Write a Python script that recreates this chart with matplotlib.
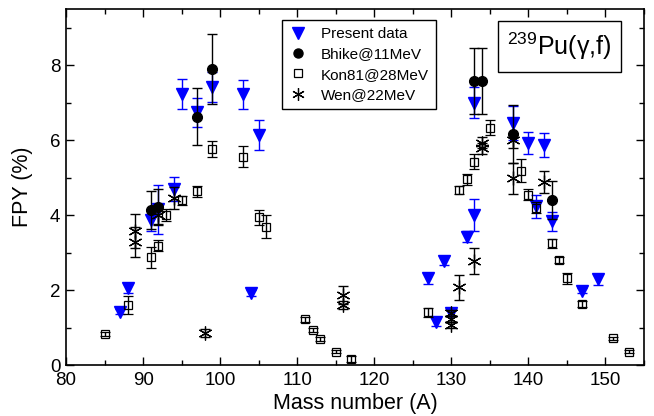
import matplotlib
matplotlib.use("Agg")
import matplotlib.pyplot as plt
from matplotlib.lines import Line2D
from matplotlib.ticker import MultipleLocator

plt.rcParams['font.family'] = ['Liberation Sans', 'DejaVu Sans']
plt.rcParams['mathtext.fontset'] = 'custom'
plt.rcParams['mathtext.rm'] = 'Liberation Sans'
plt.rcParams['mathtext.it'] = 'Liberation Sans:italic'

# Present data
pres_A = [87, 88, 91, 92, 94, 95, 97, 99, 103, 104, 105, 127, 128, 129, 130, 132, 133, 133, 138, 140, 141, 142, 143, 147, 149]
pres_Y = [1.42, 2.05, 3.87, 4.15, 4.70, 7.22, 6.74, 7.41, 7.22, 1.93, 6.14, 2.31, 1.15, 2.78, 1.40, 3.42, 4.00, 7.00, 6.45, 5.92, 4.23, 5.87, 3.83, 1.98, 2.29]
pres_E = [0.07, 0.12, 0.30, 0.65, 0.32, 0.40, 0.39, 0.40, 0.39, 0.08, 0.40, 0.15, 0.10, 0.10, 0.10, 0.15, 0.43, 0.42, 0.45, 0.30, 0.31, 0.31, 0.25, 0.07, 0.15]

# Bhike@11MeV
bhi_A = [91, 92, 97, 99, 133, 134, 138, 143]
bhi_Y = [4.14, 4.21, 6.63, 7.90, 7.58, 7.58, 6.17, 4.40]
bhi_E = [0.50, 0.48, 0.77, 0.94, 0.89, 0.89, 0.77, 0.50]

# Kon81@28MeV
kon_A = [85, 88, 91, 92, 93, 95, 97, 99, 103, 105, 106, 111, 112, 113, 115, 117, 127, 131, 132, 133, 135, 139, 140, 141, 143, 144, 145, 147, 151, 153]
kon_Y = [0.83, 1.60, 2.87, 3.18, 4.00, 4.39, 4.63, 5.76, 5.56, 3.94, 3.69, 1.22, 0.93, 0.69, 0.36, 0.16, 1.41, 4.67, 4.96, 5.43, 6.33, 5.19, 4.54, 4.20, 3.25, 2.80, 2.31, 1.62, 0.71, 0.36]
kon_E = [0.05, 0.25, 0.28, 0.15, 0.15, 0.12, 0.15, 0.21, 0.28, 0.20, 0.30, 0.06, 0.06, 0.06, 0.05, 0.08, 0.12, 0.12, 0.15, 0.20, 0.20, 0.30, 0.15, 0.15, 0.12, 0.08, 0.15, 0.08, 0.05, 0.05]

# Wen@22MeV
wen_A = [89, 89, 92, 94, 98, 116, 116, 130, 130, 130, 131, 133, 134, 134, 138, 138, 142]
wen_Y = [3.58, 3.27, 4.00, 4.45, 0.86, 1.87, 1.60, 1.38, 1.22, 1.08, 2.07, 2.78, 5.93, 5.78, 6.00, 4.98, 4.89]
wen_E = [0.45, 0.40, 0.25, 0.30, 0.10, 0.25, 0.10, 0.08, 0.08, 0.08, 0.34, 0.35, 0.15, 0.15, 0.20, 0.42, 0.30]

legend_labels = ["Present data", "Bhike@11MeV", "Kon81@28MeV", "Wen@22MeV"]

fig = plt.figure(figsize=(6.54, 4.16), dpi=100)
ax = fig.add_axes([66/654, 1-365/416, (644-66)/654, (365-9)/416])

ast = (6, 2, 0)

ax.errorbar(pres_A, pres_Y, yerr=pres_E, fmt='v', color='#0000ff', ms=8.5,
            ecolor='#0000ff', elinewidth=1.0, capsize=3.5, capthick=1.0, zorder=3)
ax.errorbar(bhi_A, bhi_Y, yerr=bhi_E, fmt='o', color='black', ms=7,
            ecolor='black', elinewidth=1.0, capsize=3.5, capthick=1.0, zorder=4)
ax.errorbar(kon_A, kon_Y, yerr=kon_E, fmt='s', mfc='none', mec='black', mew=0.9, ms=6,
            ecolor='black', elinewidth=1.0, capsize=3.5, capthick=1.0, zorder=5)
ax.errorbar(wen_A, wen_Y, yerr=wen_E, fmt='none', ecolor='black', elinewidth=1.0,
            capsize=3.5, capthick=1.0, zorder=5)
ax.plot(wen_A, wen_Y, linestyle='none', marker=ast, ms=10, mec='black', mew=0.9, zorder=6)

ax.set_xlim(80, 155)
ax.set_ylim(0, 9.5)
ax.xaxis.set_major_locator(MultipleLocator(10))
ax.xaxis.set_minor_locator(MultipleLocator(5))
ax.yaxis.set_major_locator(MultipleLocator(2))
ax.yaxis.set_minor_locator(MultipleLocator(1))
ax.tick_params(which='both', direction='in', top=True, right=True, labelsize=13.5, width=1.0)
ax.tick_params(which='major', length=6)
ax.tick_params(which='minor', length=3.5)
ax.tick_params(axis='x', pad=5)
ax.tick_params(axis='y', pad=4)
for s in ax.spines.values():
    s.set_linewidth(1.2)

ax.set_xlabel("Mass number (A)", fontsize=15.5, labelpad=3)
ax.set_ylabel("FPY (%)", fontsize=15.5, labelpad=12)

handles = [
    Line2D([], [], linestyle='none', marker='v', color='#0000ff', ms=8.5),
    Line2D([], [], linestyle='none', marker='o', color='black', ms=6.5),
    Line2D([], [], linestyle='none', marker='s', mfc='none', mec='black', mew=0.9, ms=5.5),
    Line2D([], [], linestyle='none', marker=ast, mec='black', mew=0.9, ms=9),
]
leg = ax.legend(handles, legend_labels, loc='upper left', bbox_to_anchor=(0.374, 0.969),
                borderaxespad=0, fontsize=11, frameon=True, fancybox=False,
                edgecolor='black', framealpha=1, handlelength=1.2, handletextpad=0.9,
                labelspacing=0.42, borderpad=0.45)
leg.get_frame().set_linewidth(1.0)

ax.text(0.854, 0.895, "$^{239}$Pu(γ,f)", transform=ax.transAxes, fontsize=18,
        ha='center', va='center',
        bbox=dict(boxstyle='square,pad=0.38', fc='white', ec='black', lw=1.0))

fig.savefig("out.png", dpi=100)
